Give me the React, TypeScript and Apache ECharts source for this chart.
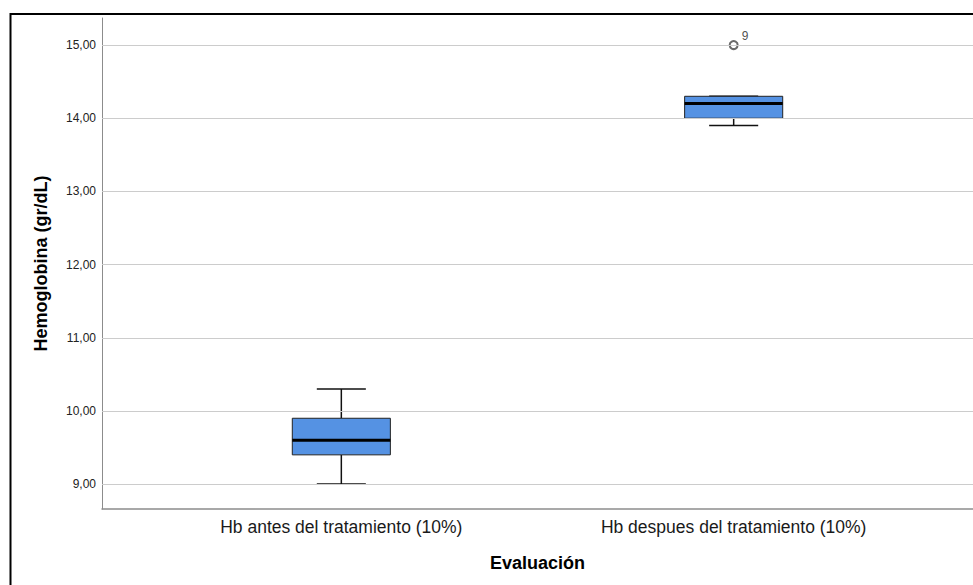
import React, { useEffect, useRef } from "react";
import * as echarts from "echarts";

const categories = ["Hb antes del tratamiento (10%)", "Hb despues del tratamiento (10%)"];
const xPositions = [1, 2];
const minValues = [9.0, 13.9];
const q1Values = [9.4, 14.0];
const medianValues = [9.6, 14.2];
const q3Values = [9.9, 14.3];
const maxValues = [10.3, 14.3];
const outlierPoints = [[2, 15.0, "9"]];
const yTickValues = [9, 10, 11, 12, 13, 14, 15];

const FONT = "'Liberation Sans', Arial, sans-serif";
const BOX_FRACTION = 0.25;
const CAP_FRACTION = 0.125;

export default function App() {
  const ref = useRef<HTMLDivElement>(null);
  useEffect(() => {
    if (!ref.current) return;
    const chart = echarts.init(ref.current, null, { renderer: "svg" });
    const boxData = xPositions.map((x, i) => [
      x,
      minValues[i],
      q1Values[i],
      medianValues[i],
      q3Values[i],
      maxValues[i],
    ]);
    const option: any = {
      animation: false,
      backgroundColor: "#ffffff",
      grid: { left: 102, top: 18, width: 873, bottom: 76, containLabel: false },
      xAxis: {
        type: "value",
        min: 0.39,
        max: 2.61,
        name: "Evaluación",
        nameLocation: "middle",
        nameGap: 45,
        nameTextStyle: { fontFamily: FONT, fontSize: 18, fontWeight: "bold", color: "#000" },
        axisLine: { show: true, onZero: false, lineStyle: { color: "#8c8c8c", width: 1.5 } },
        axisTick: { show: false },
        splitLine: { show: false },
        axisLabel: {
          customValues: xPositions,
          formatter: (v: number) => categories[Math.round(v) - 1] ?? "",
          fontFamily: FONT,
          fontSize: 17.5,
          color: "#1a1a1a",
          margin: 9,
        },
      },
      yAxis: {
        type: "value",
        min: 8.66,
        max: 15.37,
        name: "Hemoglobina (gr/dL)",
        nameLocation: "middle",
        nameGap: 52,
        nameTextStyle: { fontFamily: FONT, fontSize: 18, fontWeight: "bold", color: "#000" },
        axisLine: { show: true, onZero: false, lineStyle: { color: "#8c8c8c", width: 1 } },
        axisTick: { show: false },
        splitLine: { show: false },
        axisLabel: {
          customValues: yTickValues,
          formatter: (v: number) => v.toFixed(2).replace(".", ","),
          fontFamily: FONT,
          fontSize: 12,
          color: "#222",
          margin: 6,
        },
      },
      graphic: [
        {
          type: "rect",
          shape: { x: 10.5, y: 14, width: 1000, height: 600 },
          style: { fill: "none", stroke: "#000", lineWidth: 2 },
          silent: true,
          z: 100,
        },
      ],
      series: [
        {
          type: "line",
          data: [],
          z: 1,
          silent: true,
          markLine: {
            silent: true,
            symbol: ["none", "none"],
            label: { show: false },
            lineStyle: { color: "#cccccc", type: "solid", width: 1.2 },
            data: yTickValues.map((v) => ({ yAxis: v })),
          },
        },
        {
          type: "custom",
          z: 3,
          data: boxData,
          encode: { x: 0, y: [1, 2, 3, 4, 5] },
          renderItem: (params: any, api: any) => {
            const x = api.value(0);
            const cx = api.coord([x, api.value(1)])[0];
            const yMin = api.coord([x, api.value(1)])[1];
            const yQ1 = api.coord([x, api.value(2)])[1];
            const yMed = api.coord([x, api.value(3)])[1];
            const yQ3 = api.coord([x, api.value(4)])[1];
            const yMax = api.coord([x, api.value(5)])[1];
            const boxW = api.size([BOX_FRACTION, 0])[0];
            const capW = api.size([CAP_FRACTION, 0])[0];
            const lineStyle = { stroke: "#111", lineWidth: 1.5 };
            return {
              type: "group",
              children: [
                { type: "line", shape: { x1: cx, y1: yQ3, x2: cx, y2: yMax }, style: lineStyle },
                { type: "line", shape: { x1: cx, y1: yQ1, x2: cx, y2: yMin }, style: lineStyle },
                { type: "line", shape: { x1: cx - capW / 2, y1: yMax, x2: cx + capW / 2, y2: yMax }, style: lineStyle },
                { type: "line", shape: { x1: cx - capW / 2, y1: yMin, x2: cx + capW / 2, y2: yMin }, style: lineStyle },
                {
                  type: "rect",
                  shape: { x: cx - boxW / 2, y: yQ3, width: boxW, height: yQ1 - yQ3 },
                  style: { fill: "#5592e3", stroke: "#222", lineWidth: 1 },
                },
                {
                  type: "line",
                  shape: { x1: cx - boxW / 2, y1: yMed, x2: cx + boxW / 2, y2: yMed },
                  style: { stroke: "#000", lineWidth: 3 },
                },
              ],
            };
          },
        },
        {
          type: "scatter",
          z: 4,
          data: outlierPoints,
          symbol: "emptyCircle",
          symbolSize: 8,
          itemStyle: { color: "#444", borderWidth: 1 },
          label: {
            show: true,
            formatter: (p: any) => p.value[2],
            position: "right",
            offset: [-2, -9],
            fontFamily: FONT,
            fontSize: 12,
            color: "#222",
          },
        },
      ],
    };
    chart.setOption(option);
    return () => chart.dispose();
  }, []);
  return (
    <div
      ref={ref}
      style={{ position: "fixed", left: 0, top: 0, width: 973, height: 585, background: "#fff" }}
    />
  );
}
